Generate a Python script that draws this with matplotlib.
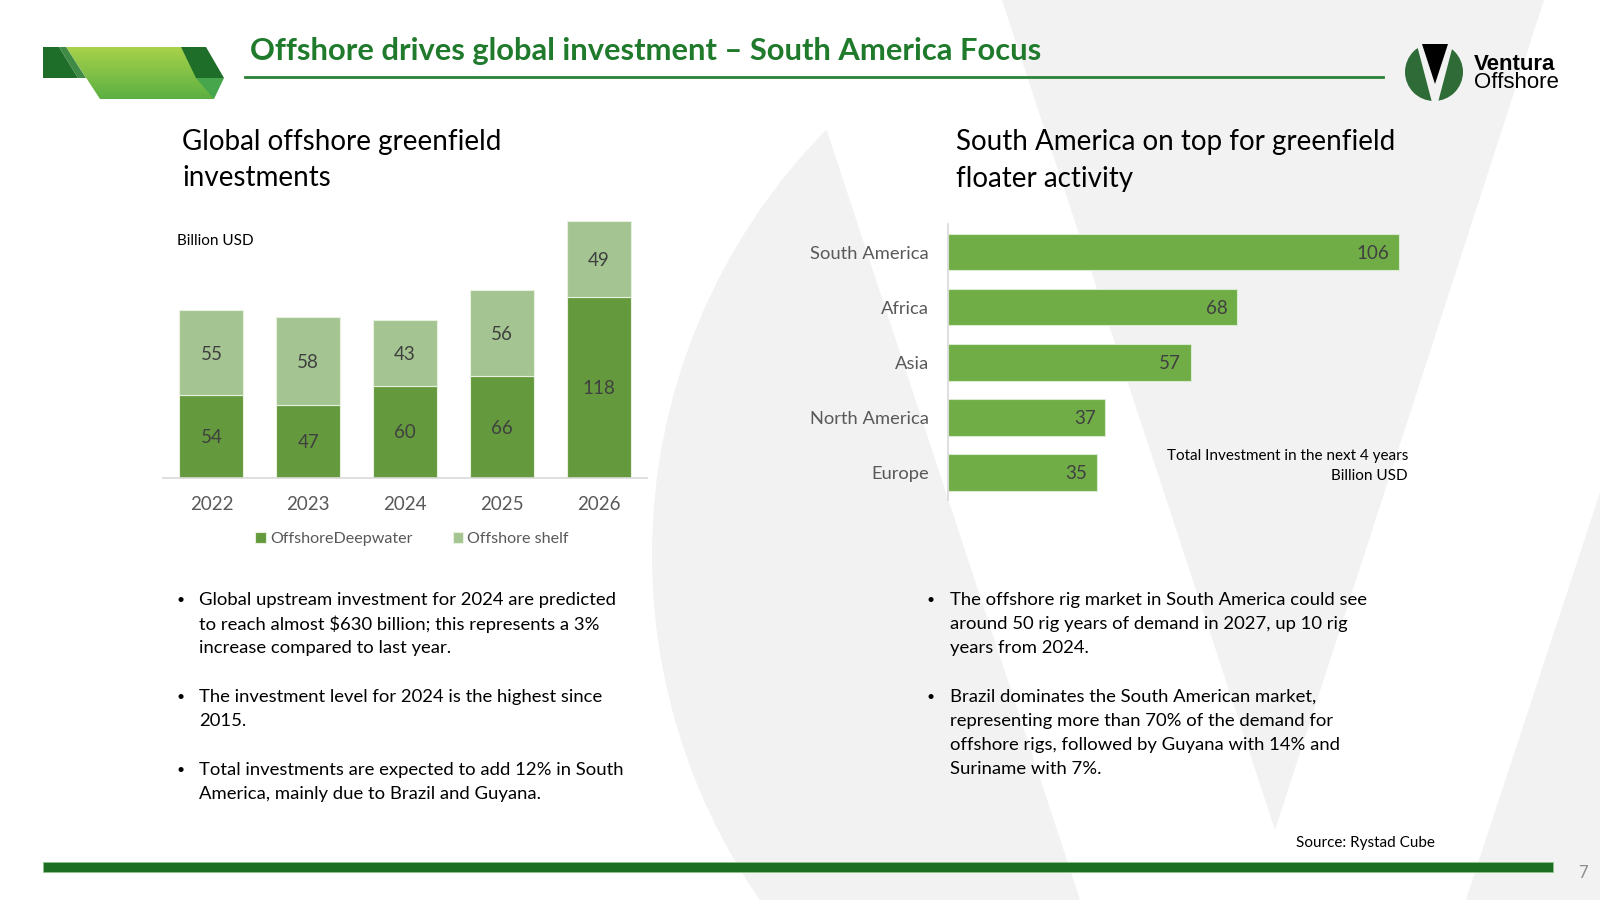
import numpy as np
import matplotlib
matplotlib.use('Agg')
import matplotlib.pyplot as plt
from matplotlib.patches import Polygon, Circle, Rectangle
from matplotlib.lines import Line2D

plt.rcParams['font.family'] = ['Lato', 'DejaVu Sans']

W, H = 1600, 900

# chart data
years = ['2022', '2023', '2024', '2025', '2026']
deepwater = [54, 47, 60, 66, 118]
shelf = [55, 58, 43, 56, 49]

regions = ['South America', 'Africa', 'Asia', 'North America', 'Europe']
floater_invest = [106, 68, 57, 37, 35]

left_bullets = [
    ["Global upstream investment for 2024 are predicted",
     "to reach almost \\$630 billion; this represents a 3%",
     "increase compared to last year."],
    ["The investment level for 2024 is the highest since",
     "2015."],
    ["Total investments are expected to add 12% in South",
     "America, mainly due to Brazil and Guyana."],
]
right_bullets = [
    ["The offshore rig market in South America could see",
     "around 50 rig years of demand in 2027, up 10 rig",
     "years from 2024."],
    ["Brazil dominates the South American market,",
     "representing more than 70% of the demand for",
     "offshore rigs, followed by Guyana with 14% and",
     "Suriname with 7%."],
]

c_title = '#1f7a2c'
c_deep = '#649a3d'
c_shelf = '#a4c591'
c_bar = '#70ad47'
c_wm = '#f2f2f2'
c_lbl = '#404040'
c_tick = '#595959'

fig = plt.figure(figsize=(16, 9), dpi=100)
bg = fig.add_axes([0, 0, 1, 1])
bg.set_xlim(0, W)
bg.set_ylim(H, 0)
bg.axis('off')

# watermark "V" logo in light grey
wm_circle = dict(xy=(1258, 555), radius=606)
left_clip = Polygon([(-100, -100), (751, -100), (1113, 1000), (-100, 1000)],
                    transform=bg.transData)
right_clip = Polygon([(1795, -100), (2100, -100), (2100, 1000), (1433, 1000)],
                     transform=bg.transData)
for clip in (left_clip, right_clip):
    c = Circle(**wm_circle, facecolor=c_wm, edgecolor='none', zorder=0)
    bg.add_patch(c)
    c.set_clip_path(clip)
bg.add_patch(Polygon([(1002, 0), (1544, 0), (1275, 830)], facecolor=c_wm,
                     edgecolor='none', zorder=0))

# header ribbon
light = Polygon([(66, 47), (186, 47), (214, 99), (100, 99)], facecolor='none',
                edgecolor='none')
bg.add_patch(light)
grad = np.linspace(0, 1, 60)[:, None, None]
top = np.array([0.66, 0.82, 0.29])
bot = np.array([0.36, 0.69, 0.26])
img = bg.imshow(top + (bot - top) * grad, extent=(60, 220, 99, 47),
                origin='upper', aspect='auto', zorder=1)
img.set_clip_path(light)
bg.add_patch(Polygon([(43, 47), (59, 47), (78, 78), (43, 78)],
                     facecolor='#1e6e2a', edgecolor='none', zorder=2))
bg.add_patch(Polygon([(59, 47), (66, 47), (86, 78), (78, 78)],
                     facecolor='#3f8a45', edgecolor='none', zorder=2))
bg.add_patch(Polygon([(181, 47), (206, 47), (224, 78), (196, 78)],
                     facecolor='#1e6e2a', edgecolor='none', zorder=2))
bg.add_patch(Polygon([(196, 78), (224, 78), (214, 99)],
                     facecolor='#47a64c', edgecolor='none', zorder=2))
bg.set_xlim(0, W)
bg.set_ylim(H, 0)

bg.text(250, 51, 'Offshore drives global investment \u2013 South America Focus',
        fontsize=22.2, fontweight='bold', color=c_title, ha='left', va='center')
bg.add_line(Line2D([245, 1383], [76.5, 76.5], color='#2a8236', lw=2))

# logo
lc = dict(xy=(1434, 72), radius=29)
for pts in ([(1380, 30), (1413, 30), (1434, 110), (1380, 110)],
            [(1457, 30), (1490, 30), (1490, 110), (1436, 110)]):
    clip = Polygon(pts, transform=bg.transData)
    c = Circle(**lc, facecolor='#2f6b36', edgecolor='none', zorder=3)
    bg.add_patch(c)
    c.set_clip_path(clip)
bg.add_patch(Polygon([(1422, 44), (1448, 44), (1435, 84)], facecolor='black',
                     edgecolor='none', zorder=4))
bg.text(1474, 64, 'Ventura', fontsize=16, fontweight='bold', color='black',
        family='Liberation Sans', va='center', ha='left')
bg.text(1474, 82, 'Offshore', fontsize=16, color='black',
        family='Liberation Sans', va='center', ha='left')

# footer
bg.add_patch(Rectangle((43, 862), 1510, 10, facecolor='#1b6e22',
                       edgecolor='#8cc48a', lw=0.6, zorder=2))
bg.text(1583, 873, '7', fontsize=12, color='#8c8c8c', ha='center', va='center')
bg.text(1435, 843, 'Source: Rystad Cube', fontsize=11, color='black',
        ha='right', va='center')

# chart titles
for x0, lines in ((182, ['Global offshore greenfield', 'investments']),
                  (956, ['South America on top for greenfield', 'floater activity'])):
    for k, t in enumerate(lines):
        bg.text(x0, 142 + 36.5 * k, t, fontsize=20, color='black',
                ha='left', va='center')

# bullets
def bullets(x_dot, x_txt, y0, groups, gap):
    y = y0
    for g in groups:
        bg.text(x_dot, y, '\u2022', fontsize=10, color='black', ha='left', va='center')
        for line in g:
            bg.text(x_txt, y, line, fontsize=13.3, color='black', ha='left', va='center')
            y += 24
        y += gap

bullets(177, 199, 600, left_bullets, 25)
bullets(927, 950, 600, right_bullets, 25)

# left chart: stacked bars
ax1 = fig.add_axes([163 / W, 1 - 477.5 / H, 484 / W, 276 / H])
ax1.set_facecolor('none')
x = np.arange(len(years))
ax1.bar(x, deepwater, width=0.66, color=c_deep, edgecolor='#e8f0e0', lw=0.8,
        label='OffshoreDeepwater')
ax1.bar(x, shelf, width=0.66, bottom=deepwater, color=c_shelf,
        edgecolor='#e8f0e0', lw=0.8, label='Offshore shelf')
for xi, d, s in zip(x, deepwater, shelf):
    ax1.text(xi, d / 2, str(d), ha='center', va='center_baseline',
             fontsize=13.5, color=c_lbl)
    ax1.text(xi, d + s / 2, str(s), ha='center', va='center_baseline',
             fontsize=13.5, color=c_lbl)
ax1.set_xlim(-0.5, 4.5)
ax1.set_ylim(0, 180)
ax1.set_xticks(x, years)
ax1.set_yticks([])
ax1.tick_params(axis='x', length=0, pad=13, labelsize=13.5, labelcolor=c_tick)
for sp in ('top', 'left', 'right'):
    ax1.spines[sp].set_visible(False)
ax1.spines['bottom'].set_color('#d9d9d9')
ax1.spines['bottom'].set_linewidth(1.2)
ax1.text(177, 241, 'Billion USD', transform=bg.transData, fontsize=11,
         color='black', ha='left', va='center')
leg = ax1.legend(loc='center', bbox_to_anchor=(412 / W, 1 - 539 / H),
                 bbox_transform=fig.transFigure, ncol=2, frameon=False,
                 handlelength=0.65, handleheight=0.65, handletextpad=0.25,
                 columnspacing=2.5, fontsize=11.6)
for t in leg.get_texts():
    t.set_color(c_tick)

# right chart: horizontal bars
ax2 = fig.add_axes([948 / W, 1 - 500 / H, 468 / W, 275.5 / H])
ax2.set_facecolor('none')
y = np.arange(len(regions))
ax2.barh(y, floater_invest, height=0.666, color=c_bar, edgecolor='#d8ead0', lw=0.8)
for yi, v in zip(y, floater_invest):
    ax2.annotate(str(v), (v, yi), xytext=(-7, 0), textcoords='offset points',
                 ha='right', va='center_baseline', fontsize=13.5, color=c_lbl)
ax2.set_ylim(4.5, -0.5)
ax2.set_xlim(0, 110)
ax2.set_yticks(y, regions)
ax2.set_xticks([])
ax2.tick_params(axis='y', length=0, pad=13.5, labelsize=13.2, labelcolor=c_tick)
for sp in ('top', 'bottom', 'right'):
    ax2.spines[sp].set_visible(False)
ax2.spines['left'].set_color('#d9d9d9')
ax2.spines['left'].set_linewidth(1.2)
ax2.text(1408, 456, 'Total Investment in the next 4 years', transform=bg.transData,
         fontsize=11, color='black', ha='right', va='center')
ax2.text(1408, 476.5, 'Billion USD', transform=bg.transData,
         fontsize=11, color='black', ha='right', va='center')

fig.savefig('out.png', dpi=100)
